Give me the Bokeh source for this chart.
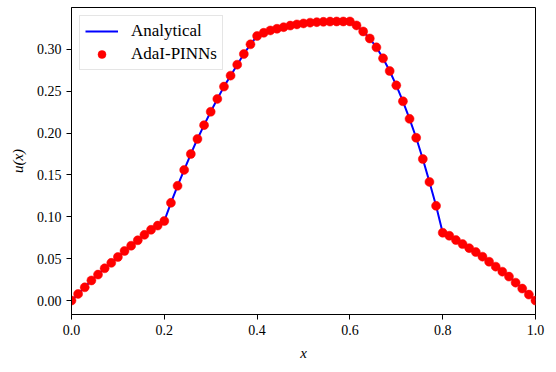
import numpy as np
from bokeh.plotting import figure
from bokeh.models import Range1d, FixedTicker, PrintfTickFormatter, Legend, LegendItem, ColumnDataSource
from bokeh.embed import file_html
from bokeh.resources import INLINE

# evaluation grid (71 uniform points on [0, 1])
x_grid = np.linspace(0.0, 1.0, 71)

# values
u_values = [
    0.0000, 0.0079, 0.0158, 0.0240, 0.0310, 0.0385, 0.0450, 0.0520, 0.0592, 0.0655,
    0.0720, 0.0785, 0.0845, 0.0895, 0.0950,
    0.1167, 0.1370, 0.1560, 0.1750, 0.1930, 0.2095, 0.2255, 0.2408, 0.2555, 0.2686,
    0.2817, 0.2944, 0.3060, 0.3160,
    0.3198, 0.3226, 0.3246, 0.3265, 0.3284, 0.3298, 0.3310, 0.3319, 0.3325, 0.3329,
    0.3332, 0.3333, 0.3333, 0.3333,
    0.3286, 0.3214, 0.3130, 0.3024, 0.2893, 0.2742, 0.2570, 0.2380, 0.2170, 0.1944,
    0.1690, 0.1417, 0.1131, 0.0810,
    0.0774, 0.0722, 0.0674, 0.0626, 0.0579, 0.0524, 0.0464, 0.0405, 0.0345, 0.0286,
    0.0214, 0.0143, 0.0071, 0.0000,
]
analytical_u = list(u_values)
pinn_u = list(u_values)

x_ticks = [0.0, 0.2, 0.4, 0.6, 0.8, 1.0]
y_ticks = [0.0, 0.05, 0.10, 0.15, 0.20, 0.25, 0.30]

FONT = "Liberation Serif"

p = figure(width=547, height=363, output_backend="svg", toolbar_location=None,
           x_range=Range1d(0.0, 1.0), y_range=Range1d(-0.01667, 0.35),
           min_border_left=71, min_border_right=12, min_border_top=7, min_border_bottom=47)
p.grid.visible = False
p.outline_line_color = "black"
p.outline_line_width = 1
p.outline_line_alpha = 1.0
p.background_fill_color = "white"
p.border_fill_color = "white"

src_line = ColumnDataSource(dict(x=x_grid, y=analytical_u))
src_pts = ColumnDataSource(dict(x=x_grid, y=pinn_u))

r_line = p.line("x", "y", source=src_line, line_color="#0000ff", line_width=2.0)
r_pts = p.scatter("x", "y", source=src_pts, size=9, fill_color="#ff0000", line_color="#ff0000",
                  line_width=0.5, marker="circle")

for ax in (p.xaxis[0], p.yaxis[0]):
    ax.major_tick_out = 5
    ax.major_tick_in = 0
    ax.minor_tick_out = 0
    ax.minor_tick_in = 0
    ax.major_label_standoff = 5
    ax.axis_line_color = "black"
    ax.major_tick_line_color = "black"
    ax.major_label_text_font = FONT
    ax.major_label_text_font_size = "14px"
    ax.major_label_text_color = "black"
    ax.axis_label_text_font = FONT
    ax.axis_label_text_font_size = "15px"
    ax.axis_label_text_font_style = "italic"
    ax.axis_label_text_color = "black"

p.xaxis[0].ticker = FixedTicker(ticks=x_ticks)
p.yaxis[0].ticker = FixedTicker(ticks=y_ticks)
p.xaxis[0].formatter = PrintfTickFormatter(format="%.1f")
p.yaxis[0].formatter = PrintfTickFormatter(format="%.2f")
p.xaxis[0].axis_label = "x"
p.yaxis[0].axis_label = "u(x)"
p.xaxis[0].axis_label_standoff = 7
p.yaxis[0].axis_label_standoff = 8

legend = Legend(items=[LegendItem(label="Analytical", renderers=[r_line]),
                       LegendItem(label="AdaI-PINNs", renderers=[r_pts])],
                location="top_left", margin=8)
legend.label_text_font = FONT
legend.label_text_font_size = "17px"
legend.label_text_color = "black"
legend.glyph_width = 33
legend.glyph_height = 20
legend.label_height = 20
legend.label_standoff = 13
legend.padding = 5
legend.spacing = 3
legend.border_line_color = "#cccccc"
legend.border_line_width = 1
legend.background_fill_color = "white"
legend.background_fill_alpha = 0.8
p.add_layout(legend)

open("out.html", "w").write(file_html(p, INLINE))
